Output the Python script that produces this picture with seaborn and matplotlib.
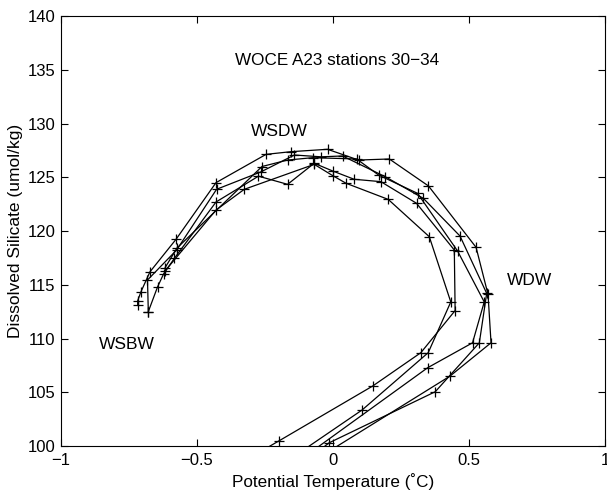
import matplotlib
matplotlib.use("Agg")
import matplotlib.pyplot as plt
import seaborn as sns
import pandas as pd

# ---- data (potential temperature, dissolved silicate) per station ----
st30_t = [-0.718, -0.718, -0.706, -0.673, -0.577, -0.430, -0.246, -0.154, -0.020, 0.094, 0.207, 0.351, 0.526, 0.570, 0.581, 0.430, -0.047]
st30_s = [113.12, 113.52, 114.35, 116.2, 119.23, 124.5, 127.13, 127.38, 127.6, 126.6, 126.7, 124.19, 118.48, 114.1, 109.6, 106.5, 99.0]

st31_t = [-0.679, -0.682, -0.575, -0.428, -0.265, -0.142, -0.044, 0.035, 0.192, 0.332, 0.467, 0.565, 0.538, 0.376, -0.014, -0.08]
st31_s = [112.5, 115.44, 118.23, 123.88, 125.5, 127.07, 126.9, 126.98, 125.05, 123.04, 119.53, 114.2, 109.6, 105.05, 100.3, 99.0]

st32_t = [-0.617, -0.574, -0.261, -0.167, -0.075, 0.087, 0.168, 0.311, 0.458, 0.556, 0.513, 0.348, -0.105]
st32_s = [116.6, 118.4, 126.0, 126.6, 126.82, 126.7, 125.2, 123.5, 118.14, 113.4, 109.6, 107.28, 99.0]

st33_t = [-0.679, -0.645, -0.623, -0.583, -0.430, -0.274, -0.167, -0.069, -0.001, 0.078, 0.176, 0.307, 0.446, 0.449, 0.323, 0.146, -0.197, -0.30]
st33_s = [112.5, 114.8, 116.0, 117.46, 122.7, 125.1, 124.34, 126.3, 125.58, 124.81, 124.59, 122.58, 118.23, 112.6, 108.68, 105.58, 100.5, 99.0]

st34_t = [-0.617, -0.430, -0.326, -0.069, -0.001, 0.048, 0.203, 0.354, 0.433, 0.350, 0.107, -0.145]
st34_s = [116.3, 121.95, 123.88, 126.2, 125.15, 124.44, 122.94, 119.47, 113.4, 108.68, 103.35, 99.0]

stations = ["30", "31", "32", "33", "34"]
temps = [st30_t, st31_t, st32_t, st33_t, st34_t]
sils = [st30_s, st31_s, st32_s, st33_s, st34_s]

x_ticks = [-1, -0.5, 0, 0.5, 1]
x_ticklabels = ["\u22121", "\u22120.5", "0", "0.5", "1"]
y_ticks = [100, 105, 110, 115, 120, 125, 130, 135, 140]

title_text = "WOCE A23 stations 30\u221234"
labels = ["WSDW", "WDW", "WSBW"]
label_x = [-0.30, 0.64, -0.86]
label_y = [129.3, 115.4, 109.4]

rows = []
for st, t, s in zip(stations, temps, sils):
    for i, (tt, ss) in enumerate(zip(t, s)):
        rows.append({"station": st, "order": i, "theta": tt, "si": ss})
df = pd.DataFrame(rows)

sns.set_style("ticks")
plt.rcParams["font.family"] = ["Liberation Sans", "DejaVu Sans"]
plt.rcParams["text.color"] = "black"
plt.rcParams["axes.labelcolor"] = "black"
plt.rcParams["xtick.color"] = "black"
plt.rcParams["ytick.color"] = "black"

fig = plt.figure(figsize=(6.07, 4.94), dpi=100)
ax = fig.add_axes([61 / 607, 48 / 494, 544 / 607, 430 / 494])

sns.lineplot(data=df, x="theta", y="si", units="station", estimator=None,
             sort=False, color="black", linewidth=0.9, marker="+",
             markersize=6.5, markeredgewidth=0.9, markeredgecolor="black",
             ax=ax, legend=False)

ax.set_xlim(-1, 1)
ax.set_ylim(100, 140)
ax.set_xticks(x_ticks)
ax.set_xticklabels(x_ticklabels)
ax.set_yticks(y_ticks)
ax.tick_params(direction="in", top=True, right=True, length=5, width=0.8,
               labelsize=12, colors="black")
ax.tick_params(axis="x", pad=5)
ax.tick_params(axis="y", pad=4)
for sp in ax.spines.values():
    sp.set_visible(True)
    sp.set_linewidth(0.8)
    sp.set_color("black")

ax.set_xlabel("Potential Temperature (\u02daC)", fontsize=12.3, labelpad=4)
ax.set_ylabel("Dissolved Silicate (umol/kg)", fontsize=12.5, labelpad=3)

ax.text(-0.36, 135.9, title_text, fontsize=12.3, ha="left", va="center")
for lab, lx, ly in zip(labels, label_x, label_y):
    ax.text(lx, ly, lab, fontsize=12.5, ha="left", va="center")

fig.savefig("out.png", dpi=100)
